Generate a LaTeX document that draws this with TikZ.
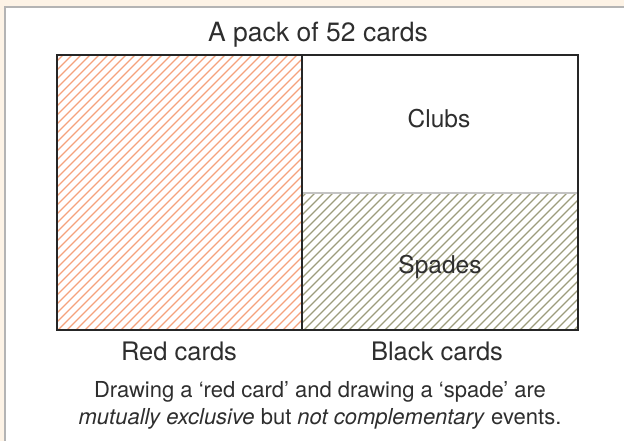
\documentclass[tikz,border=0pt]{standalone}
\usepackage{fontspec}
\setmainfont{TeX Gyre Heros}
\definecolor{cream}{HTML}{FDF3E6}
\definecolor{panelgray}{HTML}{B4B4B4}
\definecolor{textgray}{HTML}{2E2E2E}
\definecolor{redhatch}{HTML}{F5A27C}
\definecolor{blackhatch}{HTML}{9C9C7C}

\begin{document}
\begin{tikzpicture}[x=1pt,y=-1pt,
    lbl/.style={anchor=base, text=textgray, font=\fontsize{25.5}{30}\selectfont},
    hatch/.style={line width=1.4pt}]
    \useasboundingbox (0,0) rectangle (624,441);
    \fill[cream] (0,0) rectangle (624,441);
    \draw[panelgray, line width=2pt, fill=white] (5,7) rectangle (640,460);

    % hatching of the two shaded parts
    \begin{scope}
        \clip (57,55) rectangle (302,330);
        \foreach \a in {-230,-221,...,310} \draw[hatch, redhatch] (\a,330) -- ++(275,-275);
    \end{scope}
    \begin{scope}
        \clip (302,193) rectangle (578,330);
        \foreach \a in {160,169,...,590} \draw[hatch, blackhatch] (\a,330) -- ++(137,-137);
    \end{scope}

    \draw[panelgray!80, line width=2pt] (302,193) -- (578,193);
    \draw[black!85, line width=1.8pt] (302,55) -- (302,330);
    \draw[black!85, line width=2.5pt] (57,55) rectangle (578,330);

    \node[lbl, font=\fontsize{26.5}{30}\selectfont] (title) at (318,42) {A pack of 52 cards};
    \node[lbl, font=\fontsize{24.5}{28}\selectfont] (clubs) at (439,128) {Clubs};
    \node[lbl, font=\fontsize{24.5}{28}\selectfont] (spades) at (440,273) {Spades};
    \node[lbl] (redlbl) at (179,360) {Red cards};
    \node[lbl] (blacklbl) at (437,360) {Black cards};
    \node[text=textgray, font=\fontsize{22}{27}\selectfont, align=center] (caption) at (320,405)
        {Drawing a ‘red card’ and drawing a ‘spade’ are\\
         \textit{mutually exclusive} but \textit{not complementary} events.};
\end{tikzpicture}
\end{document}
